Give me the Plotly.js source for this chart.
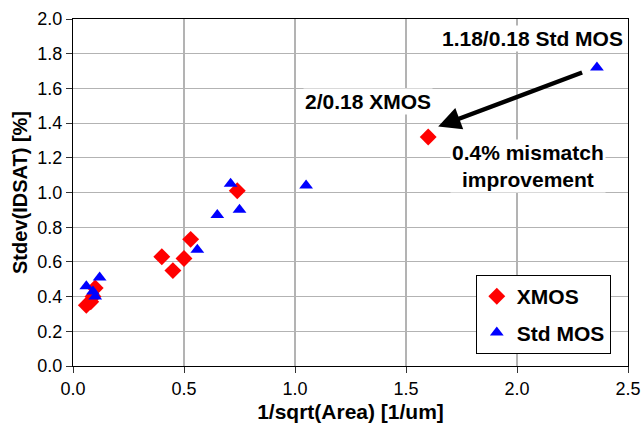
<!DOCTYPE html>
<html>
<head>
<meta charset="utf-8">
<script src="https://cdn.plot.ly/plotly-3.0.1.min.js"></script>
<style>html,body{margin:0;padding:0;background:#fff;}#chart{width:641px;height:439px;}</style>
</head>
<body>
<div id="chart"></div>
<script>
// XMOS data
const xmosX = [0.06, 0.08, 0.09, 0.10, 0.40, 0.45, 0.50, 0.53, 0.74, 1.60];
const xmosY = [0.35, 0.37, 0.40, 0.45, 0.63, 0.55, 0.62, 0.73, 1.01, 1.32];
// Std MOS data
const stdX = [0.06, 0.09, 0.10, 0.12, 0.56, 0.65, 0.71, 0.75, 1.05, 2.36];
const stdY = [0.46, 0.43, 0.40, 0.51, 0.67, 0.87, 1.05, 0.90, 1.04, 1.72];
const seriesNames = ["XMOS", "Std MOS"];
const xTicks = [0.0, 0.5, 1.0, 1.5, 2.0, 2.5];
const yTicks = [0.0, 0.2, 0.4, 0.6, 0.8, 1.0, 1.2, 1.4, 1.6, 1.8, 2.0];

const font = "Liberation Sans, Arial, sans-serif";

const traces = [
  {x: xmosX, y: xmosY, name: seriesNames[0], legendgroup: "a", mode: "markers", type: "scatter",
   marker: {symbol: "diamond", color: "#ff0000", size: 13}},
  {x: stdX, y: stdY, name: seriesNames[1], legendgroup: "b", mode: "markers", type: "scatter",
   marker: {symbol: "triangle-up", color: "#0000ff", size: 12}}
];

const layout = {
  width: 641, height: 439,
  margin: {l: 73, r: 13, t: 19, b: 73},
  paper_bgcolor: "#fff", plot_bgcolor: "#fff",
  font: {family: font, color: "#000", size: 17},
  showlegend: true,
  legend: {x: 0.969, y: 0.262, xanchor: "right", yanchor: "top",
    bgcolor: "#fff", bordercolor: "#000", borderwidth: 1,
    font: {family: font, size: 21, color: "#000", weight: "bold"},
    traceorder: "grouped", tracegroupgap: 6},
  xaxis: {range: [0, 2.5], tickvals: xTicks, ticktext: xTicks.map(v => v.toFixed(1)),
    showgrid: true, gridcolor: "#b3b3b3", gridwidth: 1.2,
    showline: true, linecolor: "#000", linewidth: 1.2, mirror: true,
    ticks: "outside", ticklen: 6, tickcolor: "#333", zeroline: false,
    tickfont: {family: font, size: 18, color: "#000"},
    title: {text: "1/sqrt(Area) [1/um]", font: {family: font, size: 21, color: "#000", weight: "bold"}, standoff: 6}},
  yaxis: {range: [0, 2.0], tickvals: yTicks, ticktext: yTicks.map(v => v.toFixed(1)),
    showgrid: true, gridcolor: "#b3b3b3", gridwidth: 1.2,
    showline: true, linecolor: "#000", linewidth: 1.2, mirror: true,
    ticks: "outside", ticklen: 6, tickcolor: "#333", zeroline: false,
    tickfont: {family: font, size: 18, color: "#000"},
    title: {text: "Stdev(IDSAT) [%]", font: {family: font, size: 20, color: "#000", weight: "bold"}, standoff: 4}},
  annotations: [
    {x: 2.07, y: 1.89, xref: "x", yref: "y", text: "1.18/0.18 Std MOS", showarrow: false,
     bgcolor: "#fff", font: {family: font, size: 21, weight: "bold"}},
    {x: 1.33, y: 1.525, xref: "x", yref: "y", text: "2/0.18 XMOS", showarrow: false,
     bgcolor: "#fff", font: {family: font, size: 21, weight: "bold"}},
    {x: 2.05, y: 1.153, xref: "x", yref: "y", text: "0.4% mismatch<br>improvement", showarrow: false,
     bgcolor: "#fff", font: {family: font, size: 21, weight: "bold"}},
    {x: 1.645, y: 1.38, ax: 2.30, ay: 1.695, xref: "x", yref: "y", axref: "x", ayref: "y",
     text: "", showarrow: true, arrowhead: 2, arrowsize: 1, arrowwidth: 4.5, arrowcolor: "#000"}
  ]
};

Plotly.newPlot("chart", traces, layout, {displayModeBar: false, staticPlot: true});
</script>
</body>
</html>
